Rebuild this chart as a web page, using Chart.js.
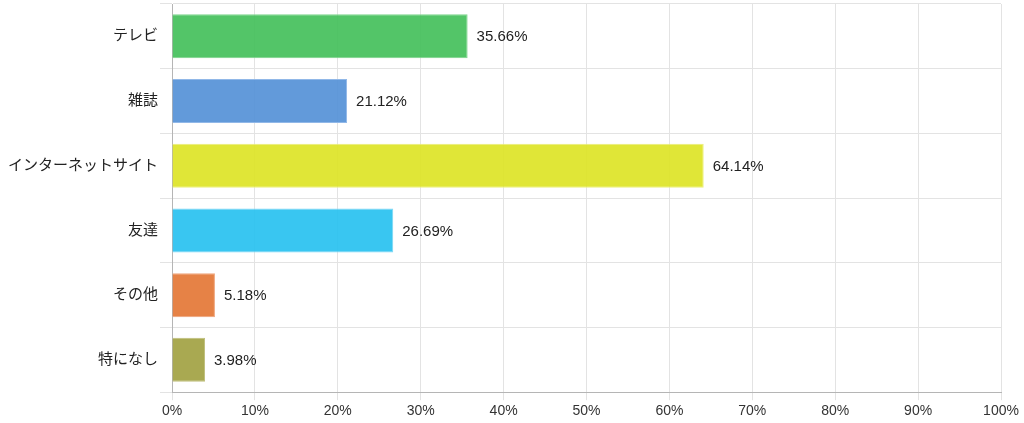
<!DOCTYPE html>
<html lang="ja">
<head>
    <meta charset="UTF-8">
    <title>情報源</title>
    <script src="https://cdn.jsdelivr.net/npm/chart.js"></script>
    <style>
        html, body { margin: 0; padding: 0; background: #fff; }
    </style>
</head>
<body>
    <div style="width: 1024px; height: 423px">
        <canvas id="myChart"></canvas>
    </div>
    <script>
        // データ
        const categories = ['テレビ', '雑誌', 'インターネットサイト', '友達', 'その他', '特になし'];
        const values = [35.66, 21.12, 64.14, 26.69, 5.18, 3.98];
        const barColors = [
            'rgba(70, 193, 92, 0.93)',
            'rgba(86, 146, 215, 0.93)',
            'rgba(222, 228, 40, 0.93)',
            'rgba(42, 194, 240, 0.93)',
            'rgba(228, 120, 56, 0.93)',
            'rgba(163, 163, 68, 0.93)'
        ];
        const borderColors = [
            'rgba(125, 212, 140, 1)',
            'rgba(145, 184, 232, 1)',
            'rgba(236, 240, 125, 1)',
            'rgba(125, 216, 246, 1)',
            'rgba(240, 165, 125, 1)',
            'rgba(192, 192, 125, 1)'
        ];

        const fontFamily = '"Liberation Sans", "Noto Sans CJK JP", Arial, sans-serif';

        // 棒の右側に値を表示
        const valueLabels = {
            id: 'valueLabels',
            afterDatasetsDraw(chart) {
                const ctx = chart.ctx;
                const meta = chart.getDatasetMeta(0);
                ctx.save();
                ctx.font = '15px ' + fontFamily;
                ctx.fillStyle = '#222';
                ctx.textBaseline = 'middle';
                ctx.textAlign = 'left';
                meta.data.forEach((bar, i) => {
                    ctx.fillText(values[i].toFixed(2) + '%', bar.x + 9, bar.y + 1);
                });
                ctx.restore();
            }
        };

        const ctx = document.getElementById('myChart').getContext('2d');
        new Chart(ctx, {
            type: 'bar',
            data: {
                labels: categories,
                datasets: [{
                    data: values,
                    backgroundColor: barColors,
                    borderColor: borderColors,
                    borderWidth: 1,
                    barPercentage: 0.68,
                    categoryPercentage: 1
                }]
            },
            options: {
                indexAxis: 'y',
                responsive: true,
                maintainAspectRatio: false,
                animation: false,
                layout: { padding: { top: 4, right: 23, bottom: 0, left: 6 } },
                plugins: {
                    legend: { display: false },
                    tooltip: { enabled: false }
                },
                scales: {
                    x: {
                        min: 0,
                        max: 100,
                        ticks: {
                            stepSize: 10,
                            color: '#333',
                            font: { size: 14, family: fontFamily },
                            callback: v => v + '%'
                        },
                        grid: { color: '#e3e3e3', tickLength: 8 },
                        border: { color: '#b5b5b5' }
                    },
                    y: {
                        // ラベルの高さで上端が下がらないようにする
                        afterFit: scale => {
                            scale.paddingTop = 0;
                            scale.paddingBottom = 0;
                        },
                        ticks: {
                            color: '#222',
                            padding: 2,
                            font: { size: 15, family: fontFamily }
                        },
                        grid: { color: '#e3e3e3', tickLength: 12 },
                        border: { color: '#b5b5b5' }
                    }
                }
            },
            plugins: [valueLabels]
        });
    </script>
</body>
</html>
